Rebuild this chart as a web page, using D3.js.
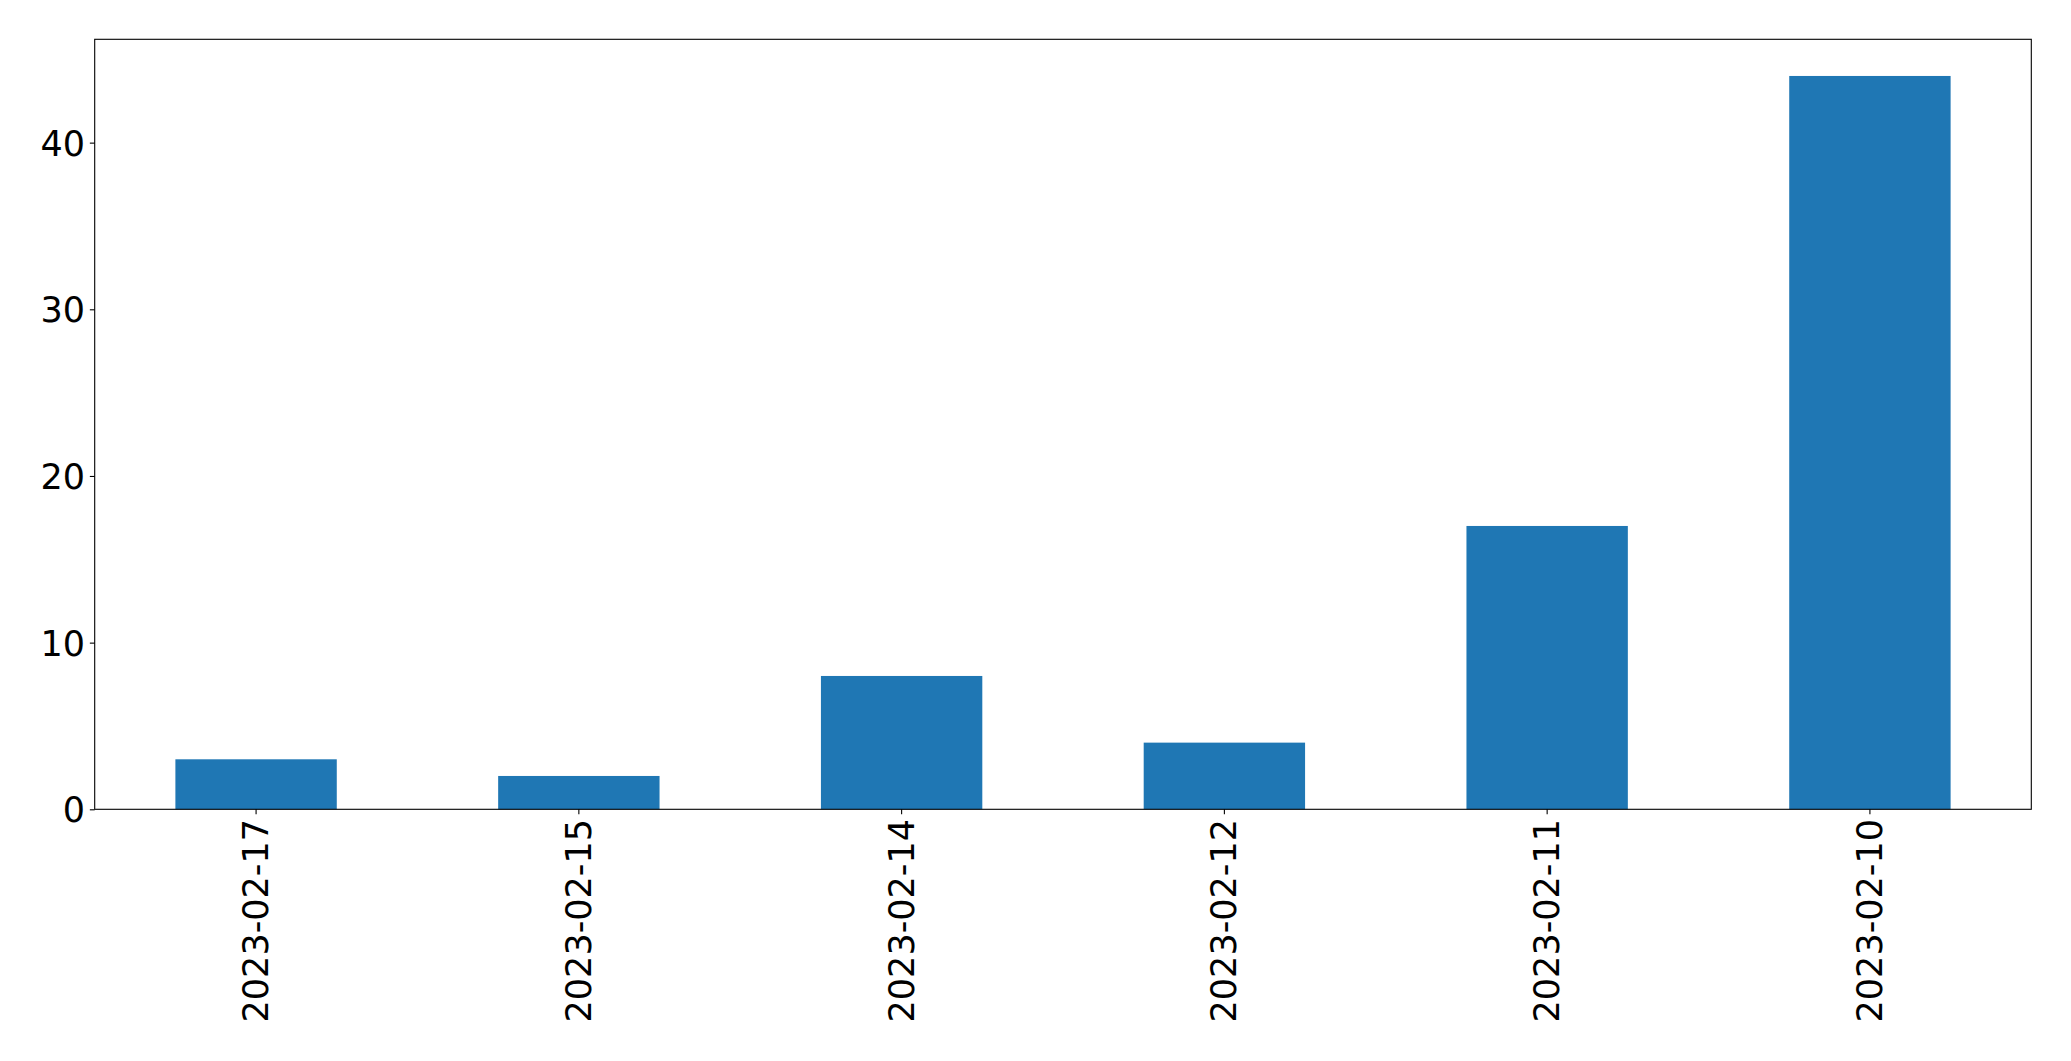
<!DOCTYPE html>
<html>
<head>
<meta charset="utf-8">
<script src="https://cdn.jsdelivr.net/npm/d3@7"></script>
<style>
  html, body { margin: 0; padding: 0; background: #fff; }
  svg { display: block; }
  text { font-family: "DejaVu Sans", sans-serif; fill: #000; }
</style>
</head>
<body>
<svg id="chart" width="2071" height="1061"></svg>
<script>
const categories = ["2023-02-17", "2023-02-15", "2023-02-14", "2023-02-12", "2023-02-11", "2023-02-10"];
const values = [3, 2, 8, 4, 17, 44];
const yTicks = [0, 10, 20, 30, 40];

const W = 2071, H = 1061;
const m = { left: 94.7, right: 2031.3, top: 39.3, bottom: 809.3 };
const svg = d3.select("#chart");

const x = d3.scaleBand().domain(categories).range([m.left, m.right])
  .paddingInner(0.5).paddingOuter(0.25);
const y = d3.scaleLinear().domain([0, d3.max(values) * 1.05]).range([m.bottom, m.top]);

svg.append("g").selectAll("rect").data(values).join("rect")
  .attr("x", (d, i) => x(categories[i]))
  .attr("width", x.bandwidth())
  .attr("y", d => y(d))
  .attr("height", d => y(0) - y(d))
  .attr("fill", "#1f77b4");

const fs = "35px";
const tickLen = 4.86, pad = 4.86;

const xAxis = svg.append("g").attr("transform", `translate(0,${m.bottom})`)
  .call(d3.axisBottom(x).tickSize(tickLen).tickPadding(pad));
xAxis.select(".domain").remove();
xAxis.selectAll(".tick line").attr("stroke", "#000").attr("stroke-width", 1.1);
xAxis.selectAll(".tick text")
  .style("font-size", fs)
  .attr("y", 0).attr("dy", null)
  .attr("text-anchor", "end")
  .attr("dominant-baseline", "central")
  .attr("transform", `translate(0,${tickLen + pad}) rotate(-90)`);

const yAxis = svg.append("g").attr("transform", `translate(${m.left},0)`)
  .call(d3.axisLeft(y).tickValues(yTicks).tickSize(tickLen).tickPadding(pad).tickFormat(d3.format("d")));
yAxis.select(".domain").remove();
yAxis.selectAll(".tick line").attr("stroke", "#000").attr("stroke-width", 1.1);
yAxis.selectAll(".tick text").style("font-size", fs).attr("dy", "0.36em");

svg.append("rect")
  .attr("x", m.left).attr("y", m.top)
  .attr("width", m.right - m.left).attr("height", m.bottom - m.top)
  .attr("fill", "none").attr("stroke", "#000").attr("stroke-width", 1.1);
</script>
</body>
</html>
